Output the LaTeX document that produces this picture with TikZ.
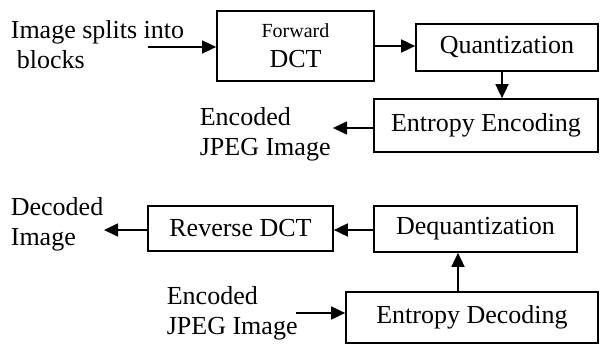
\documentclass[tikz,border=0pt]{standalone}
\usepackage{fontspec}
\setmainfont{Liberation Serif}
\usepackage{tikz}
\usetikzlibrary{arrows.meta,positioning,calc}
\tikzset{blk/.style={draw,rectangle,line width=1.7pt,inner sep=0pt,align=center}}
\tikzstyle{txt}=[anchor=west, align=left, inner sep=0pt]

\begin{document}
\begin{tikzpicture}[x=1pt,y=-1pt,>={Triangle[length=14pt,width=13pt]},line width=1.7pt,
  font=\fontsize{26}{30}\selectfont]
\useasboundingbox (0,0) rectangle (600,345);
% encoder
\node[blk, minimum width=157pt, minimum height=70pt] (FDCT) at (295.5,46)
  {{\fontsize{20}{24}\selectfont Forward}\\DCT};
\node[blk, minimum width=182pt, minimum height=47pt] (Q) at (507,47.5) {Quantization};
\node[blk, minimum width=224pt, minimum height=53pt] (EE) at (486,125.5) {Entropy Encoding};
\node[txt] (In) at (10,45) {Image splits into\\\hspace*{6pt}blocks};
\node[txt] (Enc1) at (199,134) {Encoded\\JPEG Image};
\coordinate (InA) at (148,47);
\coordinate (EncA) at (333,128);

\path[->] (InA) edge (InA -| FDCT.west)
          (FDCT.east) edge (FDCT.east -| Q.west)
          ([xshift=-5pt]Q.south) edge ([xshift=-5pt]Q.south |- EE.north)
          (EE.west |- EncA) edge (EncA);

% decoder
\node[blk, minimum width=185pt, minimum height=45pt] (RDCT) at (240.5,228.5) {Reverse DCT};
\node[blk, minimum width=203pt, minimum height=46pt] (DQ) at (475.5,229) {Dequantization};
\node[blk, minimum width=252pt, minimum height=51pt] (ED) at (472,317.5) {Entropy Decoding};
\node[txt] (Dec) at (10,224) {Decoded\\Image};
\node[txt] (Enc2) at (166,313) {Encoded\\JPEG Image};
\coordinate (DecA) at (104,230);
\coordinate (Enc2A) at (296,313);

\path[->] (DQ.west |- DecA) edge (DecA -| RDCT.east)
          (RDCT.west |- DecA) edge (DecA)
          ([xshift=-14pt]ED.north) edge ([xshift=-14pt]ED.north |- DQ.south)
          (Enc2A) edge (Enc2A -| ED.west);
\end{tikzpicture}
\end{document}
